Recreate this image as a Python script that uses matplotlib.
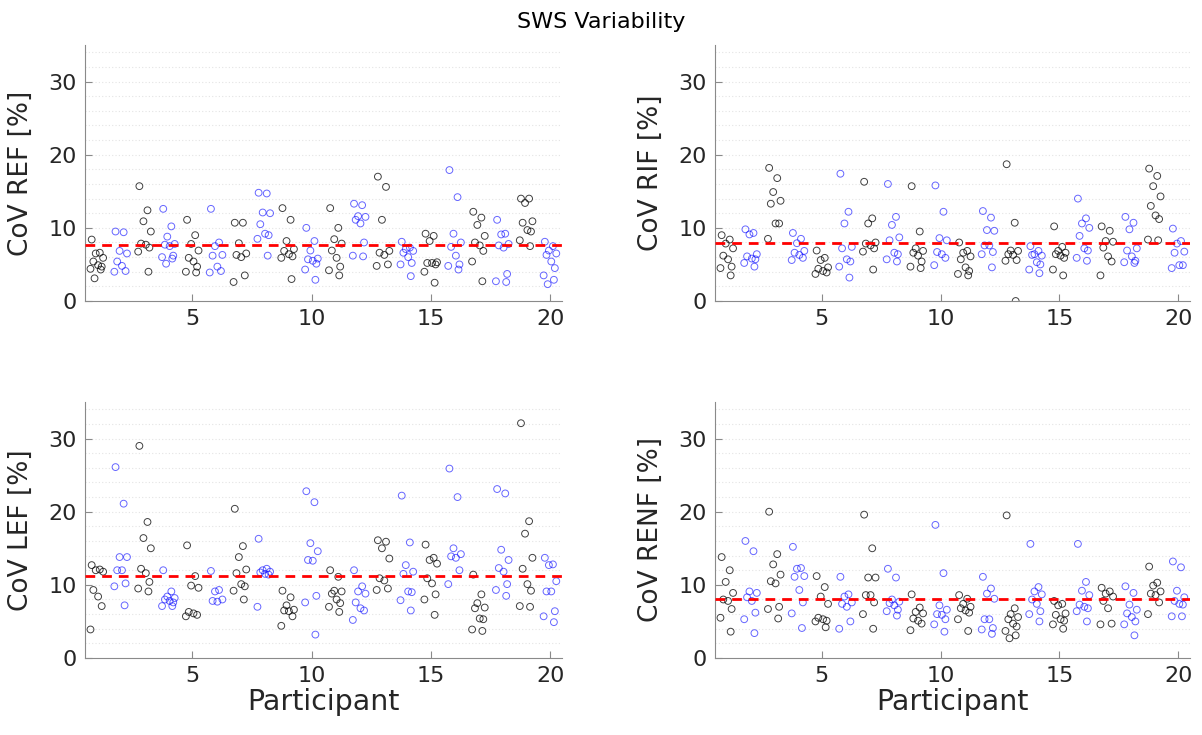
import numpy as np
import matplotlib
matplotlib.use("Agg")
import matplotlib.pyplot as plt

participants = list(range(1, 21))

cov_ref = [
    [8.4, 6.6, 6.5, 5.9, 5.4, 4.9, 4.7, 4.4, 4.3, 3.1],
    [9.5, 9.4, 6.85, 6.5, 5.4, 4.8, 4.1, 4.0],
    [15.7, 12.4, 10.9, 9.5, 7.85, 7.7, 7.3, 6.75, 4.0],
    [12.6, 10.2, 8.8, 7.8, 7.7, 7.5, 6.2, 6.0, 5.8, 5.1],
    [11.1, 9.0, 7.8, 6.9, 5.9, 5.4, 4.7, 4.0, 3.9],
    [12.6, 8.0, 7.5, 6.3, 6.2, 4.7, 4.1, 3.9],
    [10.7, 10.7, 7.9, 6.5, 6.3, 6.0, 3.5, 2.6],
    [14.8, 14.7, 12.1, 12.0, 10.5, 9.2, 9.0, 8.5, 6.2],
    [12.7, 11.1, 8.2, 7.1, 6.85, 6.4, 6.1, 5.9, 3.0],
    [10.0, 8.2, 6.9, 5.8, 5.7, 5.5, 5.1, 4.3, 2.9],
    [12.7, 10.0, 8.45, 7.85, 6.9, 5.9, 4.7, 4.2, 3.5],
    [13.3, 13.1, 11.6, 11.5, 11.1, 10.6, 8.0, 6.2, 6.1],
    [17.0, 15.6, 11.1, 6.85, 6.6, 6.3, 5.0, 4.8],
    [8.1, 7.3, 7.1, 6.85, 6.6, 6.0, 5.2, 5.0, 3.4],
    [9.2, 8.9, 8.2, 5.3, 5.2, 5.2, 5.0, 4.0, 2.5],
    [17.9, 14.2, 9.2, 8.0, 7.4, 6.2, 5.0, 4.8, 4.3],
    [12.2, 11.4, 10.4, 8.9, 8.0, 7.6, 6.85, 5.4, 2.7],
    [11.1, 9.2, 9.1, 7.8, 7.6, 7.3, 3.7, 2.7, 2.6],
    [14.0, 14.0, 13.4, 10.9, 10.7, 9.7, 9.5, 8.3, 7.5],
    [8.1, 7.5, 6.9, 6.5, 6.3, 5.4, 4.5, 3.5, 2.9, 2.3],
]

cov_rif = [
    [9.0, 8.4, 7.85, 7.2, 6.2, 5.7, 4.7, 4.5, 3.5],
    [9.8, 9.3, 9.1, 6.4, 6.1, 5.8, 5.7, 5.2, 4.7],
    [18.2, 16.8, 14.9, 13.7, 13.3, 10.6, 10.6, 8.5],
    [9.3, 8.5, 7.9, 6.85, 6.6, 6.3, 5.9, 5.6],
    [6.9, 5.9, 5.6, 4.6, 4.4, 4.1, 3.9, 3.7],
    [17.4, 12.2, 10.6, 7.4, 7.2, 5.7, 5.4, 4.7, 3.2],
    [16.3, 11.3, 10.6, 8.0, 7.85, 7.6, 7.2, 6.75, 4.3],
    [16.0, 11.5, 10.4, 8.7, 8.3, 6.6, 6.4, 5.7, 5.4],
    [15.7, 9.5, 7.2, 6.85, 6.6, 6.2, 5.4, 4.7, 4.5],
    [15.8, 12.2, 8.6, 8.3, 6.7, 6.4, 5.9, 4.9],
    [8.0, 6.85, 6.6, 6.1, 5.7, 4.6, 4.1, 3.7, 3.5],
    [12.3, 11.4, 9.7, 9.6, 7.6, 7.6, 6.7, 6.4, 4.6],
    [18.7, 10.7, 6.9, 6.85, 6.4, 6.3, 5.6, 5.5, 0.0],
    [7.5, 6.85, 6.4, 6.2, 6.3, 5.3, 5.0, 4.3, 3.8],
    [10.2, 7.4, 6.85, 6.6, 6.4, 6.2, 5.9, 4.3, 3.5],
    [14.0, 11.3, 10.6, 10.0, 8.9, 7.2, 6.9, 5.9, 5.5],
    [10.2, 9.6, 8.2, 8.1, 7.3, 6.1, 5.4, 3.5],
    [11.5, 10.7, 9.8, 7.2, 6.9, 6.1, 5.5, 5.3, 5.2],
    [18.1, 17.1, 15.7, 14.3, 13.0, 11.7, 11.2, 8.4, 8.3],
    [9.9, 8.2, 7.85, 6.75, 6.6, 4.9, 4.9, 4.5],
]

cov_lef = [
    [12.7, 12.1, 12.0, 11.8, 9.3, 8.4, 7.1, 3.9],
    [26.1, 21.1, 13.8, 13.8, 12.0, 12.0, 10.2, 9.8, 7.2],
    [29.0, 18.6, 16.4, 15.0, 12.2, 11.6, 10.4, 9.5, 9.1],
    [12.0, 9.1, 8.4, 8.2, 8.0, 7.8, 7.6, 7.1, 7.1],
    [15.4, 11.2, 9.9, 9.6, 6.3, 6.1, 5.9, 5.7],
    [11.9, 9.3, 9.1, 8.0, 7.8, 7.7],
    [20.4, 15.3, 13.8, 12.1, 11.6, 10.1, 9.8, 9.2, 8.0],
    [16.3, 12.2, 12.0, 11.8, 11.7, 11.5, 11.4, 7.0],
    [9.2, 8.3, 7.2, 6.6, 6.5, 6.4, 5.7, 4.4],
    [22.8, 21.3, 15.7, 14.6, 13.4, 13.3, 8.5, 7.6, 3.2],
    [12.0, 11.1, 9.2, 9.1, 8.8, 8.0, 7.5, 7.0, 6.3],
    [12.0, 9.8, 9.1, 8.8, 7.6, 6.8, 6.5, 5.2],
    [16.1, 15.9, 15.0, 13.6, 10.9, 10.6, 9.5, 9.3],
    [22.2, 15.8, 12.7, 11.8, 11.5, 9.1, 9.0, 7.9, 6.5],
    [15.5, 13.7, 13.4, 12.9, 10.9, 10.2, 8.7, 8.0, 5.9],
    [25.9, 22.0, 15.0, 14.2, 13.9, 13.7, 12.0, 10.1],
    [11.4, 8.7, 7.5, 6.9, 6.8, 5.4, 5.3, 3.9, 3.7],
    [23.1, 22.5, 14.8, 13.4, 12.3, 11.8, 10.1, 9.3, 8.5],
    [32.1, 18.7, 17.0, 13.7, 12.2, 10.1, 9.2, 7.1, 7.0],
    [13.7, 12.8, 12.7, 10.5, 9.1, 9.1, 6.4, 5.7, 4.9],
]

cov_renf = [
    [13.8, 12.0, 10.4, 8.9, 8.0, 7.8, 6.7, 5.5, 3.6],
    [16.0, 14.6, 9.1, 8.9, 8.3, 7.8, 6.2, 5.3, 3.4],
    [20.0, 14.2, 12.8, 11.4, 10.5, 10.2, 7.0, 6.7, 5.4],
    [15.2, 12.3, 12.2, 11.2, 11.1, 9.3, 7.6, 6.1, 4.1],
    [11.2, 9.7, 8.4, 7.4, 5.5, 5.3, 5.1, 5.0, 4.2],
    [11.1, 8.7, 8.4, 7.6, 7.4, 7.0, 5.0, 4.0],
    [19.6, 15.0, 11.0, 11.0, 8.6, 8.6, 7.6, 6.0, 4.0],
    [12.2, 11.0, 8.0, 7.7, 7.5, 7.2, 6.6, 6.4, 5.8],
    [8.7, 6.9, 6.3, 6.1, 5.4, 5.1, 4.7, 3.8],
    [18.2, 11.6, 7.2, 6.6, 6.0, 5.9, 5.3, 4.6, 3.6],
    [8.6, 8.1, 7.4, 7.0, 6.8, 6.5, 6.2, 5.3, 3.7],
    [11.1, 9.5, 8.8, 8.1, 5.3, 5.3, 4.1, 3.9, 3.3],
    [19.5, 6.8, 6.0, 5.6, 5.3, 4.7, 4.3, 3.7, 3.1, 2.7],
    [15.6, 9.7, 9.1, 8.7, 8.0, 7.4, 6.4, 6.0, 5.0],
    [7.8, 7.4, 7.2, 6.1, 5.9, 5.3, 5.1, 4.6, 4.0],
    [15.6, 10.4, 9.2, 8.6, 7.3, 7.0, 6.8, 6.4, 5.0],
    [9.6, 9.1, 8.8, 8.4, 7.8, 6.8, 4.7, 4.6],
    [9.8, 8.9, 7.3, 6.6, 6.1, 5.6, 5.0, 4.6, 3.1],
    [12.5, 10.3, 9.9, 9.1, 8.8, 8.6, 7.6, 6.0],
    [13.2, 12.4, 9.2, 8.3, 7.8, 7.4, 7.3, 5.7, 5.7],
]

panel_labels = ["CoV REF [%]", "CoV RIF [%]", "CoV LEF [%]", "CoV RENF [%]"]
panel_data = [cov_ref, cov_rif, cov_lef, cov_renf]
panel_means = [7.6, 7.9, 11.2, 8.0]

x_ticks = [5, 10, 15, 20]
y_ticks = [0, 10, 20, 30]

# fixed spread pattern for horizontal offsets of the repeated measurements
spread = [-0.22, 0.12, -0.05, 0.26, -0.15, 0.05, 0.20, -0.27, 0.16, -0.10]

fig = plt.figure(figsize=(12.02, 7.35), dpi=100)
plt.rcParams['font.family'] = ['DejaVu Sans']

positions = [
    [85/1202, 1-301/735, 477/1202, 256/735],
    [715/1202, 1-301/735, 475/1202, 256/735],
    [85/1202, 1-658/735, 477/1202, 256/735],
    [715/1202, 1-658/735, 475/1202, 256/735],
]

tick_color = '#262626'
axis_color = '#8a8a8a'

for i, (pos, data, label, mean) in enumerate(zip(positions, panel_data, panel_labels, panel_means)):
    ax = fig.add_axes(pos)
    for g in np.arange(2, 35, 2):
        ax.axhline(g, color='#e4e4e4', lw=0.8, ls=(0, (1, 2)), zorder=0)
    for p, vals in zip(participants, data):
        xs = [p + spread[k % len(spread)] for k in range(len(vals))]
        col = 'black' if p % 2 == 1 else 'blue'
        alpha = 0.75 if p % 2 == 1 else 0.6
        ax.scatter(xs, vals, s=24, facecolors='none', edgecolors=col,
                   linewidths=0.7, alpha=alpha, zorder=2)
    ax.axhline(mean, color='red', lw=2.0, ls=(0, (3.5, 2.5)), zorder=3)
    ax.set_xlim(0.5, 20.5)
    ax.set_ylim(0, 35)
    ax.set_xticks(x_ticks)
    ax.set_yticks(y_ticks)
    ax.tick_params(direction='in', length=5, width=0.8, colors=axis_color,
                   labelcolor=tick_color, labelsize=16, pad=6)
    for s in ['top', 'right']:
        ax.spines[s].set_visible(False)
    for s in ['left', 'bottom']:
        ax.spines[s].set_color(axis_color)
        ax.spines[s].set_linewidth(0.8)
    ax.set_ylabel(label, fontsize=19, color=tick_color, labelpad=10)
    if i >= 2:
        ax.set_xlabel("Participant", fontsize=20.5, color=tick_color, labelpad=1)

fig.text(0.5, 0.97, "SWS Variability", ha='center', va='center', fontsize=16, color='black')

fig.savefig("out.png", dpi=100)
